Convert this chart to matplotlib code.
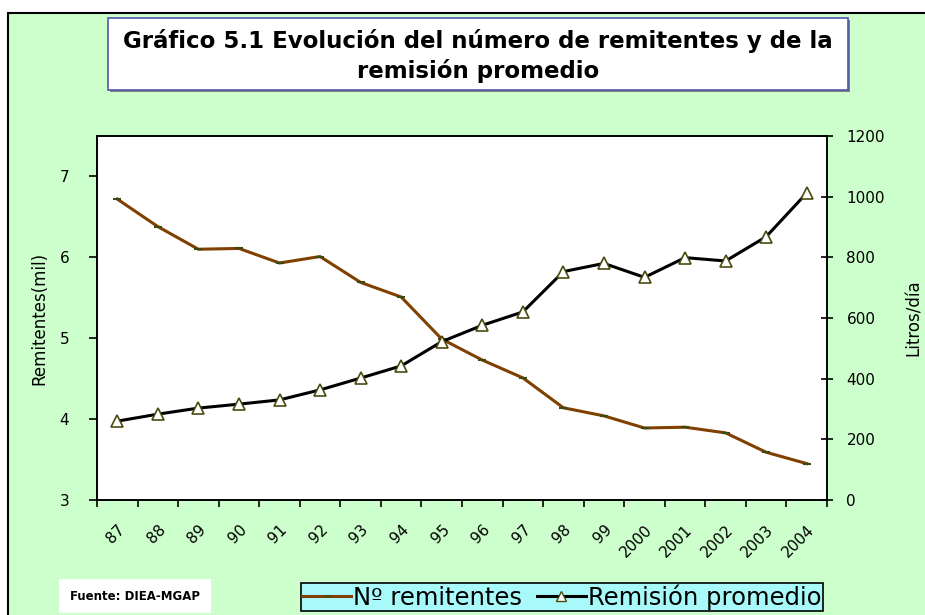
import matplotlib
matplotlib.use("Agg")
import matplotlib.pyplot as plt
from matplotlib.patches import Rectangle
from matplotlib.lines import Line2D

# datos
anios = ['87', '88', '89', '90', '91', '92', '93', '94', '95', '96', '97',
         '98', '99', '2000', '2001', '2002', '2003', '2004']
remitentes = [6.72, 6.38, 6.10, 6.11, 5.93, 6.01, 5.69, 5.51, 4.99, 4.73,
              4.51, 4.14, 4.04, 3.89, 3.90, 3.83, 3.59, 3.45]
remision = [260, 283, 303, 316, 330, 363, 402, 442, 522, 576, 620, 753,
            780, 734, 799, 788, 868, 1012]

W, H = 925, 615
fig = plt.figure(figsize=(W / 100, H / 100), dpi=100)
fig.patch.set_facecolor('white')

# fondo verde con borde
fig.patches.append(Rectangle((8 / W, -0.01), 1, 1.01 - 13 / H,
                             transform=fig.transFigure,
                             facecolor='#ccffcc', edgecolor='black', lw=1.5,
                             zorder=-5))

# caja del titulo (sombra + caja)
fig.patches.append(Rectangle((110 / W, 1 - 92 / H), 740 / W, 72 / H,
                             transform=fig.transFigure, facecolor='#808080',
                             edgecolor='none', zorder=1))
fig.patches.append(Rectangle((108 / W, 1 - 90 / H), 740 / W, 72 / H,
                             transform=fig.transFigure, facecolor='white',
                             edgecolor='#5555aa', lw=1.2, zorder=2))
fig.text(478 / W, 1 - 56 / H,
         'Gráfico 5.1 Evolución del número de remitentes y de la\nremisión promedio',
         ha='center', va='center', fontsize=16.5, fontweight='bold',
         linespacing=1.35, zorder=3)

# ejes
ax = fig.add_axes([97 / W, 115 / H, 730 / W, 364 / H])
ax.set_facecolor('white')
x = list(range(len(anios)))

ax.plot(x, remitentes, color='#804000', lw=2.2, marker='_', ms=6,
        mec='#3a4a10', mew=1.5, zorder=3)
ax.set_xlim(-0.5, len(anios) - 0.5)
ax.set_ylim(3, 7.5)
ax.set_yticks([3, 4, 5, 6, 7])
ax.set_ylabel('Remitentes(mil)', fontsize=12, labelpad=8)
ax.tick_params(axis='y', labelsize=11, length=6, width=1.2, pad=14)

ax.set_xticks(x)
ax.set_xticklabels(anios, rotation=45, ha='right', rotation_mode='anchor',
                   fontsize=11)
ax.tick_params(axis='x', which='major', length=0, pad=16)
ax.set_xticks([i - 0.5 for i in range(len(anios) + 1)], minor=True)
ax.tick_params(axis='x', which='minor', length=5, width=1.2)

ax2 = ax.twinx()
ax2.plot(x, remision, color='black', lw=2.2, marker='^', ms=8,
         mfc='white', mec='#4a4a10', mew=1.2, zorder=3)
ax2.set_ylim(0, 1200)
ax2.set_yticks(range(0, 1201, 200))
ax2.set_ylabel('Litros/día', fontsize=12, labelpad=14)
ax2.tick_params(axis='y', labelsize=11, length=8, width=1.2,
                direction='inout', pad=10)

for a in (ax, ax2):
    for s in a.spines.values():
        s.set_linewidth(1.2)

# fuente
fig.text(70 / W, 1 - 596 / H, 'Fuente: DIEA-MGAP', fontsize=8.5,
         fontweight='bold', va='center', ha='left',
         bbox=dict(boxstyle='square,pad=0.9', facecolor='white', edgecolor='none'))

# leyenda
handles = [Line2D([], [], color='#804000', lw=2.2, marker='_', ms=5,
                  mec='#3a4a10'),
           Line2D([], [], color='black', lw=2.2, marker='^', ms=7,
                  mfc='white', mec='#4a4a10')]
leg = fig.legend(handles, ['Nº remitentes', 'Remisión promedio'], ncol=2,
                 loc='center', bbox_to_anchor=(562 / W, 1 - 597 / H),
                 fontsize=17.5, frameon=True, fancybox=False, framealpha=1,
                 facecolor='#a8fafa', edgecolor='black', handlelength=2.0,
                 handletextpad=0.1, columnspacing=0.6, borderpad=0.05,
                 borderaxespad=0)
leg.get_frame().set_linewidth(1.2)

fig.savefig('out.png', dpi=100)
